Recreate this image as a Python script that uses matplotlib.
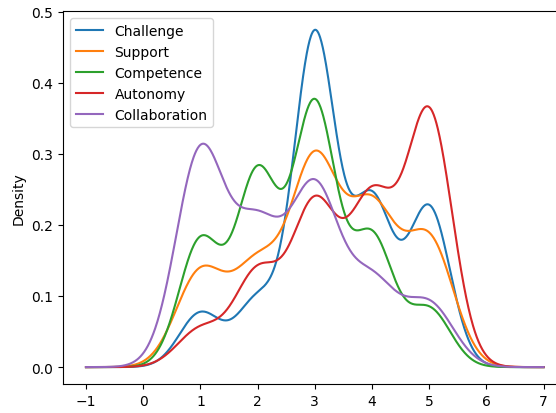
import numpy as np
import pandas as pd
import matplotlib
matplotlib.use("Agg")
import matplotlib.pyplot as plt

# Likert response levels and counts of responses per level, per scale
levels = [1, 2, 3, 4, 5]
challenge = [18, 22, 111, 55, 53]
support = [36, 37, 77, 58, 48]
competence = [46, 70, 95, 47, 21]
autonomy = [14, 35, 60, 61, 95]
collaboration = [86, 53, 70, 33, 25]
series_names = ["Challenge", "Support", "Competence", "Autonomy", "Collaboration"]

counts = [challenge, support, competence, autonomy, collaboration]
df = pd.DataFrame({
    name: pd.Series(np.repeat(levels, c).astype(float))
    for name, c in zip(series_names, counts)
})

fig = plt.figure(figsize=(5.56, 4.14), dpi=100)
ax = fig.add_axes([0.1135, 0.0700, 0.9054, 0.9002])
df.plot.kde(ax=ax)
ax.set_ylim(-0.0238, 0.5003)
ax.legend(loc="upper left")
fig.savefig("out.png", dpi=100)
